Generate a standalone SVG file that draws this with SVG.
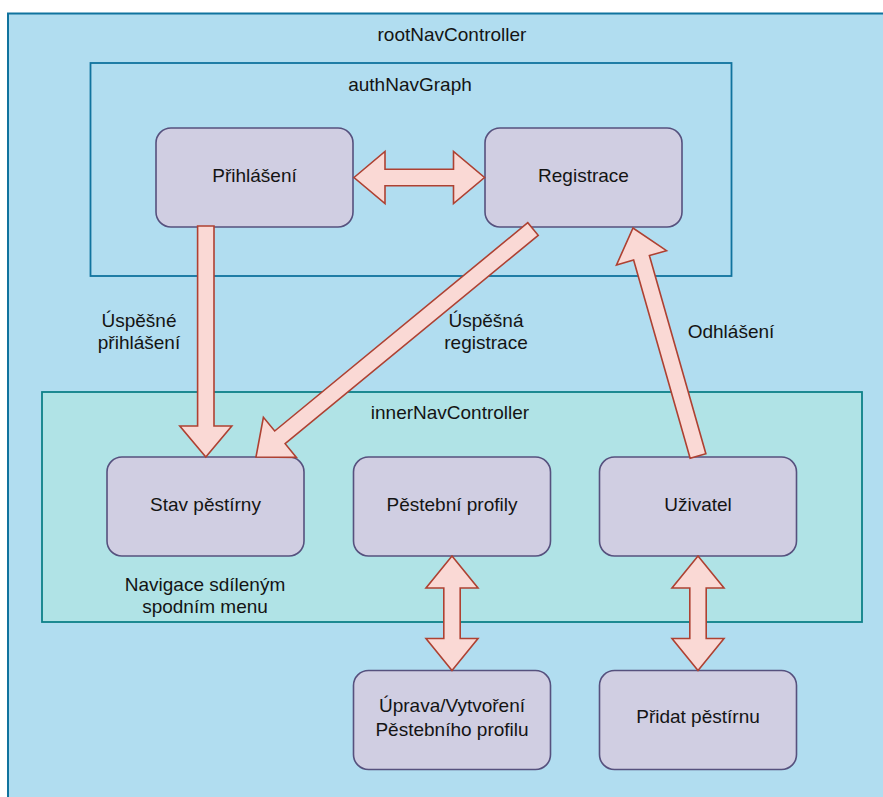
<svg xmlns="http://www.w3.org/2000/svg" width="883" height="797" viewBox="0 0 883 797">
<style>
.t{font-family:"Liberation Sans",Arial,Helvetica,sans-serif;font-size:19px;fill:#141414;text-anchor:middle}
.box{fill:#d0cee2;stroke:#56517e;stroke-width:1.6}
.arr{fill:#fad9d5;stroke:#ae4132;stroke-width:1.6;stroke-linejoin:miter}
</style>
<rect width="883" height="797" fill="#ffffff"/>
<g id="rootNavController">
<rect x="8" y="13.5" width="900" height="800" fill="#b1ddf0" stroke="#10739e" stroke-width="2"/>
<text class="t" x="452" y="41">rootNavController</text>
</g>
<g id="authNavGraph">
<rect x="90.5" y="63" width="641" height="213" fill="#b1ddf0" stroke="#10739e" stroke-width="1.8"/>
<text class="t" x="410" y="91">authNavGraph</text>
</g>
<g id="innerNavController">
<rect x="42" y="392" width="820" height="230" fill="#b0e3e6" stroke="#0e8088" stroke-width="1.8"/>
<text class="t" x="450" y="419">innerNavController</text>
<text class="t" x="205" y="591">Navigace sdíleným</text>
<text class="t" x="205" y="613">spodním menu</text>
</g>
<g id="prihlaseni">
<rect class="box" x="156" y="128" width="197" height="99" rx="15"/>
<text class="t" x="254.5" y="182">Přihlášení</text>
</g>
<g id="registrace">
<rect class="box" x="485" y="128" width="197" height="99" rx="15"/>
<text class="t" x="583.5" y="182">Registrace</text>
</g>
<g id="stav">
<rect class="box" x="107" y="457" width="197" height="99" rx="15"/>
<text class="t" x="205.5" y="511">Stav pěstírny</text>
</g>
<g id="profily">
<rect class="box" x="353.5" y="457" width="197" height="99" rx="15"/>
<text class="t" x="452" y="511">Pěstební profily</text>
</g>
<g id="uzivatel">
<rect class="box" x="599.5" y="457" width="197" height="99" rx="15"/>
<text class="t" x="698" y="511">Uživatel</text>
</g>
<g id="uprava">
<rect class="box" x="353.5" y="670.5" width="197" height="99" rx="15"/>
<text class="t" x="452" y="712">Úprava/Vytvoření</text>
<text class="t" x="452" y="736">Pěstebního profilu</text>
</g>
<g id="pridat">
<rect class="box" x="599.5" y="670.5" width="197" height="99" rx="15"/>
<text class="t" x="698" y="723">Přidat pěstírnu</text>
</g>
<g id="connectors">
<polygon class="arr" points="354,177.5 385,151.5 385,169.3 453.5,169.3 453.5,151.5 484.5,177.5 453.5,203.5 453.5,185.7 385,185.7 385,203.5"/>
<polygon class="arr" points="197.6,226 214,226 214,426 231.8,426 205.8,457 179.8,426 197.6,426"/>
<polygon class="arr" transform="translate(533,229) rotate(140.54)" points="0,-8.2 327.8,-8.2 327.8,-26 358.8,0 327.8,26 327.8,8.2 0,8.2"/>
<polygon class="arr" transform="translate(698,456) rotate(-105.91)" points="0,-8.2 206.1,-8.2 206.1,-26 237.1,0 206.1,26 206.1,8.2 0,8.2"/>
<polygon class="arr" points="452,556 478,588 460.2,588 460.2,638.5 478,638.5 452,670.5 426,638.5 443.8,638.5 443.8,588 426,588"/>
<polygon class="arr" points="698,556 724,588 706.2,588 706.2,638.5 724,638.5 698,670.5 672,638.5 689.8,638.5 689.8,588 672,588"/>
<text class="t" x="139" y="327">Úspěšné</text>
<text class="t" x="139" y="349">přihlášení</text>
<text class="t" x="486" y="327">Úspěšná</text>
<text class="t" x="486" y="349">registrace</text>
<text class="t" x="731" y="338">Odhlášení</text>
</g>
</svg>
